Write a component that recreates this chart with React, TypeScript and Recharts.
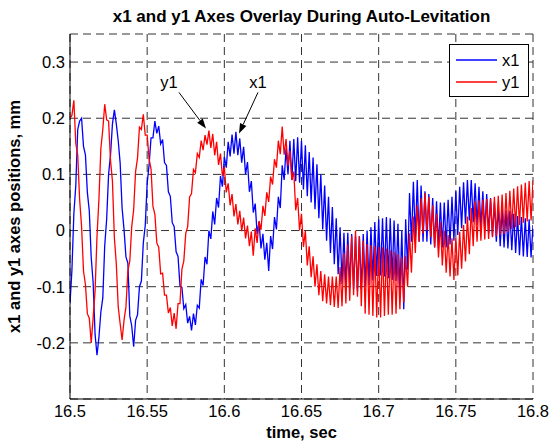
import { LineChart, Line, XAxis, YAxis, CartesianGrid, ReferenceLine } from "recharts";

// sampling of the traces (sec)
const t0 = 16.5;
const dt = 0.00125;

const seriesNames = ["x1", "y1"];
const seriesColors = ["#0000ff", "#ff0000"];

const x1Values = [
  -0.13, -0.07, 0.03, 0.08, 0.18, 0.195, 0.2, 0.15, 0.135, 0.068,
  0.035, -0.048, -0.093, -0.185, -0.222, -0.19, -0.145, -0.12, -0.027, 0.02,
  0.1, 0.134, 0.19, 0.215, 0.19, 0.16, 0.12, 0.04, 0.002, -0.047,
  -0.058, -0.152, -0.17, -0.207, -0.16, -0.15, -0.1, -0.09, -0.022, 0.009,
  0.084, 0.117, 0.165, 0.165, 0.195, 0.173, 0.186, 0.154, 0.162, 0.121,
  0.116, 0.069, 0.061, 0.014, 0.007, -0.038, -0.046, -0.098, -0.101, -0.139,
  -0.132, -0.165, -0.153, -0.178, -0.148, -0.168, -0.133, -0.138, -0.087, -0.098,
  -0.047, -0.06, 0.0, -0.015, 0.034, 0.011, 0.058, 0.041, 0.097, 0.078,
  0.131, 0.112, 0.158, 0.132, 0.171, 0.137, 0.176, 0.134, 0.164, 0.121,
  0.149, 0.1, 0.122, 0.069, 0.088, 0.032, 0.048, -0.006, 0.016, -0.032,
  -0.006, -0.052, -0.022, -0.072, -0.01, -0.033, 0.024, 0.002, 0.06, 0.04,
  0.116, 0.09, 0.146, 0.1, 0.16, 0.09, 0.163, 0.088, 0.166, 0.085,
  0.16, 0.073, 0.152, 0.061, 0.14, 0.05, 0.13, 0.038, 0.118, 0.022,
  0.1, 0.002, 0.08, -0.018, 0.06, -0.04, 0.042, -0.06, 0.022, -0.078,
  0.006, -0.095, -0.004, -0.1, -0.004, -0.1, -0.006, -0.104, -0.01, -0.108,
  -0.01, -0.104, -0.006, -0.1, 0.0, -0.097, 0.006, -0.089, 0.015, -0.081,
  0.02, -0.08, 0.022, -0.082, 0.024, -0.085, 0.022, -0.088, 0.018, -0.09,
  0.012, -0.11, 0.0, -0.14, 0.02, -0.07, 0.067, -0.02, 0.087, -0.015,
  0.09, -0.02, 0.08, -0.02, 0.07, -0.02, 0.065, -0.025, 0.058, -0.03,
  0.052, -0.032, 0.05, -0.03, 0.05, -0.03, 0.055, -0.025, 0.06, -0.018,
  0.07, -0.008, 0.078, 0.004, 0.086, 0.012, 0.09, 0.018, 0.09, 0.015,
  0.084, 0.01, 0.078, 0.005, 0.07, 0.0, 0.065, -0.005, 0.058, -0.01,
  0.05, -0.02, 0.042, -0.028, 0.038, -0.03, 0.036, -0.032, 0.035, -0.035,
  0.03, -0.04, 0.026, -0.044, 0.024, -0.046, 0.022, -0.047, 0.02, -0.048,
  0.01,
];

const y1Values = [
  0.2, 0.205, 0.232, 0.155, 0.135, 0.055, 0.007, -0.072, -0.096, -0.148,
  -0.156, -0.2, -0.155, -0.107, -0.01, 0.056, 0.146, 0.18, 0.225, 0.197,
  0.195, 0.125, 0.088, -0.013, -0.059, -0.136, -0.166, -0.195, -0.16, -0.136,
  -0.072, -0.054, 0.007, 0.037, 0.105, 0.129, 0.184, 0.18, 0.207, 0.17,
  0.17, 0.127, 0.11, 0.043, 0.029, -0.022, -0.03, -0.077, -0.076, -0.115,
  -0.115, -0.147, -0.137, -0.17, -0.147, -0.175, -0.13, -0.13, -0.069, -0.054,
  -0.005, 0.007, 0.06, 0.066, 0.109, 0.103, 0.137, 0.13, 0.16, 0.143,
  0.17, 0.153, 0.178, 0.147, 0.172, 0.134, 0.158, 0.117, 0.137, 0.097,
  0.113, 0.068, 0.084, 0.045, 0.065, 0.025, 0.047, 0.011, 0.035, -0.001,
  0.023, -0.014, 0.009, -0.028, -0.002, -0.045, 0.004, -0.022, 0.017, 0.001,
  0.044, 0.026, 0.068, 0.051, 0.096, 0.082, 0.127, 0.112, 0.16, 0.136,
  0.185, 0.135, 0.163, 0.115, 0.142, 0.09, 0.105, 0.036, 0.058, 0.0,
  0.03, -0.029, -0.001, -0.062, -0.028, -0.083, -0.046, -0.1, -0.06, -0.115,
  -0.072, -0.126, -0.078, -0.13, -0.082, -0.133, -0.082, -0.136, -0.082, -0.138,
  -0.065, -0.135, -0.04, -0.13, -0.025, -0.125, -0.01, -0.115, 0.0, -0.118,
  -0.01, -0.135, -0.018, -0.148, -0.024, -0.15, -0.026, -0.152, -0.028, -0.155,
  -0.03, -0.155, -0.03, -0.152, -0.032, -0.15, -0.035, -0.15, -0.038, -0.148,
  -0.042, -0.14, -0.048, -0.128, -0.045, -0.1, -0.005, -0.075, 0.025, -0.04,
  0.045, -0.02, 0.058, -0.005, 0.067, 0.0, 0.06, -0.012, 0.045, -0.03,
  0.03, -0.048, 0.015, -0.062, 0.0, -0.075, -0.008, -0.082, -0.014, -0.088,
  -0.012, -0.08, -0.002, -0.068, 0.01, -0.055, 0.025, -0.042, 0.04, -0.028,
  0.052, -0.02, 0.054, -0.018, 0.055, -0.016, 0.056, -0.015, 0.057, -0.012,
  0.06, -0.01, 0.062, -0.008, 0.064, -0.006, 0.067, -0.002, 0.071, 0.003,
  0.075, 0.006, 0.079, 0.01, 0.082, 0.014, 0.085, 0.016, 0.088, 0.018,
  0.09,
];

const xTicks = [16.5, 16.55, 16.6, 16.65, 16.7, 16.75, 16.8];
const yTicks = [-0.2, -0.1, 0, 0.1, 0.2, 0.3];
const xDomain = [16.5, 16.8];
const yDomain = [-0.3, 0.35];

// arrow annotations: label, tail (t, value), head (t, value)
const notes = [
  { text: "y1", from: [16.5706, 0.246], to: [16.5881, 0.1816], dx: -10 },
  { text: "x1", from: [16.6218, 0.246], to: [16.6095, 0.1727], dx: 0 },
];

const data = x1Values.map((v, i) => ({
  t: t0 + i * dt,
  x1: v,
  y1: y1Values[i],
}));

const FONT = '"Liberation Sans", Arial, Helvetica, sans-serif';

const arrowShape = (text: string, dx: number) => (props: any) => {
  const { x1, y1, x2, y2 } = props;
  const ang = Math.atan2(y2 - y1, x2 - x1);
  const len = 10;
  const w = 3.5;
  const bx = x2 - len * Math.cos(ang);
  const by = y2 - len * Math.sin(ang);
  const p1 = `${bx + w * Math.sin(ang)},${by - w * Math.cos(ang)}`;
  const p2 = `${bx - w * Math.sin(ang)},${by + w * Math.cos(ang)}`;
  return (
    <g>
      <line x1={x1} y1={y1} x2={bx} y2={by} stroke="#000" strokeWidth={1} />
      <polygon points={`${x2},${y2} ${p1} ${p2}`} fill="#000" />
      <text x={x1 + dx} y={y1 - 4} textAnchor="middle" fontSize={16.5} fontFamily={FONT} fill="#000">
        {text}
      </text>
    </g>
  );
};

export default function App() {
  return (
    <div style={{ position: "absolute", left: 0, top: 0, width: 553, height: 441, background: "#fff", fontFamily: FONT }}>
      <div
        style={{
          position: "absolute",
          left: 70,
          width: 463,
          top: 7,
          textAlign: "center",
          fontSize: 17,
          fontWeight: "bold",
          lineHeight: "20px",
          color: "#000",
        }}
      >
        x1 and y1 Axes Overlay During Auto-Levitation
      </div>
      <LineChart width={553} height={441} data={data} margin={{ top: 34, right: 20, bottom: 0, left: 0 }}>
        <CartesianGrid stroke="#333" strokeDasharray="8 5" />
        <XAxis
          dataKey="t"
          type="number"
          domain={xDomain}
          ticks={xTicks}
          allowDataOverflow
          height={42}
          tickLine={false}
          tickSize={6}
          tickMargin={0}
          axisLine={{ stroke: "#000" }}
          tick={{ fill: "#000", fontSize: 16.5, fontFamily: FONT }}
          tickFormatter={(v: number) => String(Number(v.toFixed(2)))}
          label={{ value: "time, sec", position: "insideBottom", offset: 3, fill: "#000", fontSize: 16.5, fontWeight: "bold", fontFamily: FONT }}
        />
        <XAxis xAxisId="top" dataKey="t" type="number" orientation="top" domain={xDomain} allowDataOverflow height={0} tick={false} tickLine={false} axisLine={{ stroke: "#000" }} />
        <YAxis
          type="number"
          domain={yDomain}
          ticks={yTicks}
          allowDataOverflow
          width={70}
          tickLine={false}
          tickSize={5}
          tickMargin={0}
          axisLine={{ stroke: "#000" }}
          tick={{ fill: "#000", fontSize: 16.5, fontFamily: FONT }}
          tickFormatter={(v: number) => String(Number(v.toFixed(1)))}
          label={{
            value: "x1 and y1 axes positions, mm",
            angle: -90,
            position: "insideLeft",
            offset: 14,
            fill: "#000",
            fontSize: 16.5,
            fontWeight: "bold",
            fontFamily: FONT,
            style: { textAnchor: "middle" },
          }}
        />
        <YAxis yAxisId="right" type="number" orientation="right" domain={yDomain} allowDataOverflow width={0} tick={false} tickLine={false} axisLine={{ stroke: "#000" }} />
        <Line dataKey="x1" stroke={seriesColors[0]} strokeWidth={1.3} dot={false} isAnimationActive={false} />
        <Line dataKey="y1" stroke={seriesColors[1]} strokeWidth={1.3} dot={false} isAnimationActive={false} />
        {notes.map((n) => (
          <ReferenceLine
            key={n.text}
            segment={[
              { x: n.from[0], y: n.from[1] },
              { x: n.to[0], y: n.to[1] },
            ]}
            shape={arrowShape(n.text, n.dx)}
          />
        ))}
      </LineChart>
      <svg width={553} height={441} style={{ position: "absolute", left: 0, top: 0, pointerEvents: "none" }}>
        <rect x={449.5} y={44.5} width={79} height={52} fill="#fff" stroke="#000" />
        {seriesNames.map((name, i) => (
          <g key={name}>
            <line x1={456} x2={497} y1={60 + i * 22} y2={60 + i * 22} stroke={seriesColors[i]} strokeWidth={1.3} />
            <text x={502} y={66 + i * 22} fontSize={16.5} fontFamily={FONT} fill="#000">
              {name}
            </text>
          </g>
        ))}
      </svg>
    </div>
  );
}
